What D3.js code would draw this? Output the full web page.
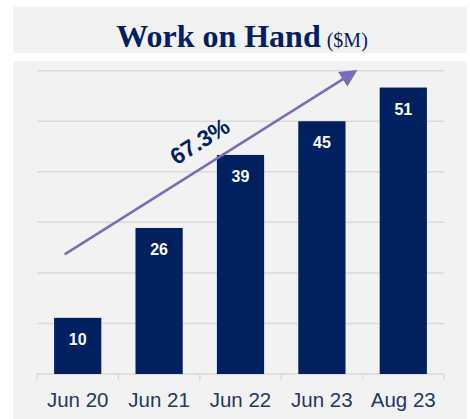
<!DOCTYPE html>
<html>
<head>
<meta charset="utf-8">
<script src="https://cdn.jsdelivr.net/npm/d3@7"></script>
<style>
  body { margin: 0; background: #fff; }
  svg { display: block; }
</style>
</head>
<body>
<div id="chart"></div>
<script>
// data
const categories = ["Jun 20", "Jun 21", "Jun 22", "Jun 23", "Aug 23"];
const values = [10, 26, 39, 45, 51];
const gridTicks = [0, 9, 18, 27, 36, 45, 54];
const growthLabel = "67.3%";
// arrow ends, x in category units (0..5), y in $M
const arrowFrom = [0.34, 21.3];
const arrowTo = [3.9, 53.8];

const W = 470, H = 419;
const margin = { top: 70.7, right: 26, bottom: 45, left: 37 };
const width = W - margin.left - margin.right;
const height = H - margin.top - margin.bottom;

const svg = d3.select("#chart").append("svg")
    .attr("width", W)
    .attr("height", H);

// panels
svg.append("rect").attr("x", 13).attr("y", 7).attr("width", 454).attr("height", 46).attr("fill", "#f2f2f2");
svg.append("rect").attr("x", 13).attr("y", 61).attr("width", 454).attr("height", 358).attr("fill", "#f2f2f2");

// title
const title = svg.append("text")
    .attr("x", 242).attr("y", 47)
    .attr("text-anchor", "middle")
    .attr("fill", "#002060")
    .attr("font-family", "'Liberation Serif', 'DejaVu Serif', serif");
title.append("tspan").attr("font-weight", "bold").attr("font-size", 32).text("Work on Hand");
title.append("tspan").attr("font-size", 20).attr("dx", 6).text("($M)");

const g = svg.append("g").attr("transform", `translate(${margin.left},${margin.top})`);

const x = d3.scaleBand().domain(categories).range([0, width]).paddingInner(0.42).paddingOuter(0.21);
const xPos = d3.scaleLinear().domain([0, categories.length]).range([0, width]);
const y = d3.scaleLinear().domain([0, 54]).range([height, 0]);

// gridlines
g.selectAll(".grid").data(gridTicks).join("line")
    .attr("x1", 0).attr("x2", width)
    .attr("y1", d => y(d)).attr("y2", d => y(d))
    .attr("stroke", "#d9d9d9").attr("stroke-width", 1.5);

// tick marks between categories
g.selectAll(".tick").data(d3.range(categories.length + 1)).join("line")
    .attr("x1", d => xPos(d)).attr("x2", d => xPos(d))
    .attr("y1", height).attr("y2", height + 6)
    .attr("stroke", "#d9d9d9").attr("stroke-width", 1.5);

// bars
g.selectAll(".bar").data(values).join("rect")
    .attr("x", (d, i) => x(categories[i]))
    .attr("y", d => y(d))
    .attr("width", x.bandwidth())
    .attr("height", d => height - y(d))
    .attr("fill", "#002060");

g.selectAll(".val").data(values).join("text")
    .attr("x", (d, i) => x(categories[i]) + x.bandwidth() / 2)
    .attr("y", d => y(d) + 27)
    .attr("text-anchor", "middle")
    .attr("fill", "#fff")
    .attr("font-family", "'Liberation Sans', Arial, sans-serif")
    .attr("font-weight", "bold")
    .attr("font-size", 16)
    .text(d => d);

// category labels
g.selectAll(".cat").data(categories).join("text")
    .attr("x", d => x(d) + x.bandwidth() / 2)
    .attr("y", height + 33)
    .attr("text-anchor", "middle")
    .attr("fill", "#1f3864")
    .attr("font-family", "'Liberation Sans', Arial, sans-serif")
    .attr("font-size", 20.5)
    .text(d => d);

// growth arrow
svg.append("defs").append("marker")
    .attr("id", "head")
    .attr("viewBox", "0 0 10 10")
    .attr("refX", 8).attr("refY", 5)
    .attr("markerWidth", 7).attr("markerHeight", 7)
    .attr("markerUnits", "strokeWidth")
    .attr("orient", "auto")
  .append("path")
    .attr("d", "M0,0 L10,5 L0,10 Z")
    .attr("fill", "#7b6bb8");

const ax1 = xPos(arrowFrom[0]), ay1 = y(arrowFrom[1]);
const ax2 = xPos(arrowTo[0]), ay2 = y(arrowTo[1]);
g.append("line")
    .attr("x1", ax1).attr("y1", ay1)
    .attr("x2", ax2).attr("y2", ay2)
    .attr("stroke", "#7b6bb8").attr("stroke-width", 2.5)
    .attr("marker-end", "url(#head)");

const angle = Math.atan2(ay2 - ay1, ax2 - ax1) * 180 / Math.PI;
g.append("text")
    .attr("transform", `translate(${204 - margin.left},${148 - margin.top}) rotate(${angle})`)
    .attr("text-anchor", "middle")
    .attr("fill", "#002060")
    .attr("font-family", "'Liberation Sans', Arial, sans-serif")
    .attr("font-weight", "bold")
    .attr("font-size", 23)
    .text(growthLabel);
</script>
</body>
</html>
